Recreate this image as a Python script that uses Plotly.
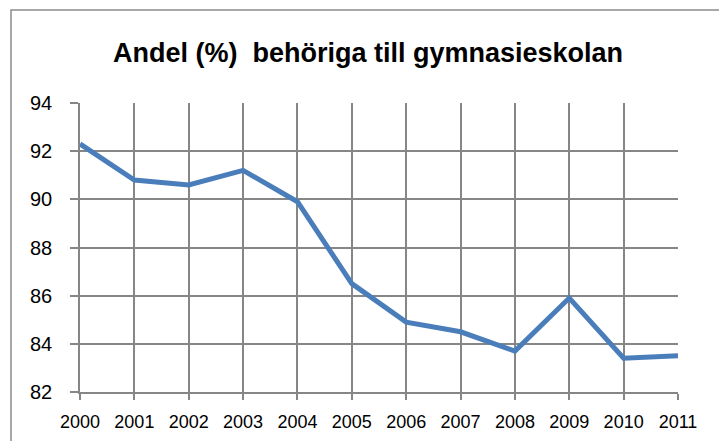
import plotly.graph_objects as go

years = [2000, 2001, 2002, 2003, 2004, 2005, 2006, 2007, 2008, 2009, 2010, 2011]
andel = [92.3, 90.8, 90.6, 91.2, 89.9, 86.5, 84.9, 84.5, 83.7, 85.9, 83.4, 83.5]
title_text = "Andel (%)\u00a0 behöriga till gymnasieskolan"

W, H = 719, 441
L, R, T, B = 80, 41, 103, 49
pw, ph = W - L - R, H - T - B

def px_x(px):
    return (px - L) / pw

def px_y(py):
    return (H - B - py) / ph

grid = "#868686"
fig = go.Figure()
fig.add_trace(go.Scatter(x=years, y=andel, mode="lines",
                         line=dict(color="#4a7ebb", width=5), hoverinfo="x+y"))

fig.update_layout(
    width=W, height=H,
    margin=dict(l=L, r=R, t=T, b=B, autoexpand=False),
    paper_bgcolor="white", plot_bgcolor="white",
    showlegend=False,
    font=dict(family="Liberation Sans, Arial, sans-serif", color="black", size=19),
    xaxis=dict(range=[2000, 2011], tickmode="array", tickvals=years,
               ticktext=[str(y) for y in years], automargin=False,
               showgrid=True, gridcolor=grid, gridwidth=1.5,
               showline=True, linecolor=grid, linewidth=1.5,
               ticks="outside", ticklen=6, tickwidth=1.5, tickcolor=grid,
               ticklabelstandoff=7, tickfont=dict(size=18), zeroline=False),
    yaxis=dict(range=[82, 94], tickvals=[82, 84, 86, 88, 90, 92, 94],
               automargin=False,
               showgrid=True, gridcolor=grid, gridwidth=1.5,
               showline=True, linecolor=grid, linewidth=1.5,
               ticks="outside", ticklen=8, tickwidth=1.5, tickcolor=grid,
               ticklabelstandoff=14, tickfont=dict(size=20), zeroline=False),
    shapes=[dict(type="rect", xref="paper", yref="paper",
                 x0=px_x(11), x1=px_x(730), y0=px_y(450), y1=px_y(10),
                 line=dict(color="#8c8c8c", width=1.5), layer="below")],
    annotations=[dict(text="<b>" + title_text + "</b>", xref="paper", yref="paper",
                      x=px_x(368), y=px_y(53), xanchor="center", yanchor="middle",
                      showarrow=False, font=dict(size=27, color="black"))],
)

fig.write_html("out.html", config={"displayModeBar": False},
               post_script="document.body.style.margin='0';document.body.style.overflow='hidden';")
